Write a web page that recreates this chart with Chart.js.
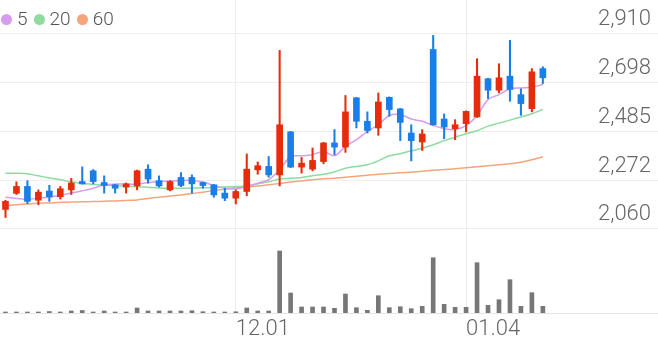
<!DOCTYPE html>
<html>
<head>
<meta charset="utf-8">
<script src="https://cdn.jsdelivr.net/npm/chart.js@4.4.1/dist/chart.umd.min.js"></script>
<style>
  html, body { margin: 0; padding: 0; background: #fff; }
  #wrap { position: relative; width: 658px; height: 342px; }
  #legend { position: absolute; left: 1px; top: 10px; display: flex; align-items: center;
            font-family: Roboto, sans-serif; font-size: 19px; font-weight: 300; line-height: 18px; color: #555; }
  #legend .item { display: flex; align-items: center; margin-right: 6px; }
  #legend .dot { display: inline-block; width: 11px; height: 11px; border-radius: 50%; margin-right: 5px; }
</style>
</head>
<body>
<div id="wrap">
  <canvas id="chart" width="658" height="342"></canvas>
  <div id="legend"></div>
</div>
<script>
// daily candles (oldest first)
const candleOpen  = [2145,2215,2245,2185,2225,2200,2230,2266,2313,2262,2252,2242,2247,2320,2270,2230,2284,2284,2262,2252,
                     2216,2194,2223,2317,2332,2295,2482,2329,2320,2353,2434,2416,2630,2528,2499,2632,2582,2477,2438,2840,
                     2538,2496,2518,2547,2713,2663,2724,2644,2583,2757];
const candleHigh  = [2185,2265,2270,2230,2250,2245,2280,2330,2318,2291,2254,2260,2316,2339,2291,2270,2305,2295,2264,2254,
                     2237,2230,2386,2351,2375,2836,2484,2371,2412,2436,2492,2640,2632,2569,2651,2634,2584,2513,2492,2901,
                     2560,2535,2573,2800,2715,2778,2880,2669,2757,2765];
const candleLow   = [2110,2210,2170,2165,2180,2190,2210,2255,2256,2216,2216,2216,2230,2259,2242,2226,2244,2216,2237,2198,
                     2183,2169,2205,2298,2285,2247,2327,2303,2313,2343,2383,2393,2499,2477,2467,2550,2444,2356,2401,2511,
                     2452,2448,2482,2545,2627,2652,2615,2554,2569,2692];
const candleClose = [2180,2245,2180,2220,2200,2235,2260,2256,2266,2249,2237,2256,2313,2277,2247,2266,2249,2256,2249,2208,
                     2194,2223,2320,2335,2295,2513,2329,2346,2358,2434,2416,2569,2528,2488,2612,2579,2523,2444,2473,2513,
                     2503,2513,2571,2724,2663,2717,2666,2605,2743,2717];
const volume      = [10,10,10,10,15,10,20,25,10,20,10,10,50,20,20,20,20,23,13,10,
                     10,12,50,20,20,620,200,60,60,60,47,190,53,27,173,53,63,43,67,553,
                     87,57,57,503,77,133,333,67,203,67];

// moving averages
const ma5  = [2198,2193,2189,2194,2198,2207,2216,2226,2237,2252,2255,2255,2255,2262,2266,2269,2271,2271,2264,2249,
              2237,2234,2244,2259,2274,2317,2375,2378,2383,2397,2378,2419,2448,2484,2513,2553,2557,2538,2528,2510,
              2496,2492,2509,2553,2622,2644,2669,2673,2676,2688];
const ma20 = [2302,2302,2300,2291,2282,2274,2265,2258,2254,2251,2248,2246,2244,2241,2238,2237,2237,2238,2239,2240,
              2243,2244,2247,2256,2265,2277,2280,2284,2291,2298,2308,2324,2332,2339,2356,2378,2387,2400,2411,2426,
              2444,2459,2474,2487,2507,2520,2533,2547,2561,2579];
const ma60 = [2162,2165,2169,2172,2173,2176,2177,2178,2179,2181,2182,2184,2186,2193,2198,2203,2208,2214,2220,2227,
              2233,2239,2243,2247,2252,2258,2264,2269,2274,2278,2281,2285,2289,2293,2298,2301,2304,2307,2311,2315,
              2318,2322,2326,2330,2335,2339,2343,2350,2361,2374];

// axis ticks
const priceTicks = [2060, 2272, 2485, 2698, 2910];
const xTickIndex = [21, 42];
const xTickText  = ['12.01', '01.04'];
const slotCount  = 60;

const RED = '#e52c0b';
const BLUE = '#1a7ee8';
const maNames = ['5', '20', '60'];
const maColors = ['#d79ced', '#8fdb9e', '#f6a47c'];

// legend
const legend = document.getElementById('legend');
maNames.forEach((n, i) => {
    const it = document.createElement('span');
    it.className = 'item';
    it.innerHTML = '<span class="dot" style="background:' + maColors[i] + '"></span>' + n;
    legend.appendChild(it);
});

const labels = Array.from({ length: slotCount }, (_, i) => {
    const k = xTickIndex.indexOf(i);
    return k >= 0 ? xTickText[k] : '';
});
const candleColors = candleOpen.map((o, i) => candleClose[i] >= o ? RED : BLUE);
const tickFont = { family: 'Roboto', size: 22, weight: '300' };

new Chart(document.getElementById('chart'), {
    data: {
        labels: labels,
        datasets: [
            {
                type: 'bar', order: 0, yAxisID: 'y',
                data: candleOpen.map((o, i) => [o, candleClose[i]]),
                backgroundColor: candleColors, barThickness: 6, grouped: false, minBarLength: 1
            },
            {
                type: 'bar', order: 1, yAxisID: 'y',
                data: candleLow.map((l, i) => [l, candleHigh[i]]),
                backgroundColor: candleColors, barThickness: 1.4, grouped: false
            },
            { type: 'line', order: 2, yAxisID: 'y', data: ma5, borderColor: maColors[0], borderWidth: 1.5, pointRadius: 0, tension: 0.3 },
            { type: 'line', order: 2, yAxisID: 'y', data: ma20, borderColor: maColors[1], borderWidth: 1.5, pointRadius: 0, tension: 0.3 },
            { type: 'line', order: 2, yAxisID: 'y', data: ma60, borderColor: maColors[2], borderWidth: 1.5, pointRadius: 0, tension: 0.3 },
            {
                type: 'bar', order: 3, yAxisID: 'yv',
                data: volume, backgroundColor: '#777777', barThickness: 4, grouped: false
            }
        ]
    },
    options: {
        responsive: false,
        animation: false,
        layout: { padding: 0 },
        plugins: { legend: { display: false }, tooltip: { enabled: false } },
        scales: {
            x: {
                type: 'category',
                offset: true,
                grid: {
                    offset: false,
                    drawTicks: false,
                    color: ctx => (ctx.tick && ctx.tick.label) ? '#ececec' : 'rgba(0,0,0,0)'
                },
                border: { display: true, color: '#e6e6e6' },
                ticks: { autoSkip: false, maxRotation: 0, align: 'start', padding: 3, font: tickFont, color: '#666' },
                afterFit: s => { s.height = 29; s.paddingLeft = 0; s.paddingRight = 0; }
            },
            y: {
                position: 'right',
                min: 1695,
                max: 3055,
                afterBuildTicks: s => { s.ticks = priceTicks.map(v => ({ value: v })); },
                grid: { color: '#eeeeee', drawTicks: false },
                border: { display: false },
                ticks: {
                    mirror: true, padding: -7, labelOffset: -14, font: tickFont, color: '#666',
                    callback: v => v.toLocaleString('en-US')
                },
                afterFit: s => { s.width = 0; s.paddingTop = 0; s.paddingBottom = 0; }
            },
            yv: { display: false, min: 0, max: 3130 }
        }
    }
});
</script>
</body>
</html>
